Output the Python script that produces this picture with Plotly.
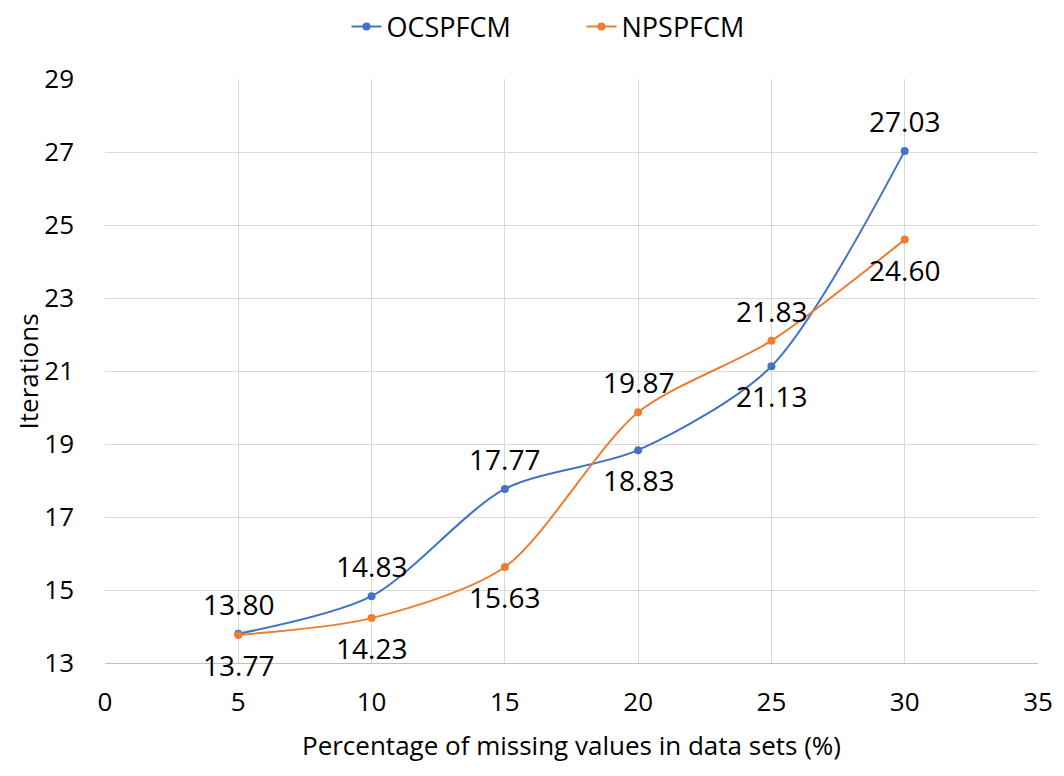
import plotly.graph_objects as go

x_vals = [5, 10, 15, 20, 25, 30]
ocs = [13.80, 14.83, 17.77, 18.83, 21.13, 27.03]
nps = [13.77, 14.23, 15.63, 19.87, 21.83, 24.60]
ocs_pos = ["above", "above", "above", "below", "below", "above"]
nps_pos = ["below", "below", "below", "above", "above", "below"]

x_ticks = [0, 5, 10, 15, 20, 25, 30, 35]
y_ticks = [13, 15, 17, 19, 21, 23, 25, 27, 29]

FONT = "Open Sans"
blue = "#4472C4"
orange = "#ED7D31"

fig = go.Figure()
fig.add_trace(go.Scatter(x=x_vals, y=ocs, name="OCSPFCM", mode="lines+markers",
                         line=dict(color=blue, width=2, shape="spline", smoothing=0.8),
                         marker=dict(size=8, color=blue)))
fig.add_trace(go.Scatter(x=x_vals, y=nps, name="NPSPFCM", mode="lines+markers",
                         line=dict(color=orange, width=2, shape="spline", smoothing=0.8),
                         marker=dict(size=8, color=orange)))

anns = []
for xs, ys, pos in [(x_vals, ocs, ocs_pos), (x_vals, nps, nps_pos)]:
    for xv, yv, p in zip(xs, ys, pos):
        anns.append(dict(x=xv, y=yv, text=f"{yv:.2f}", showarrow=False,
                         yshift=30 if p == "above" else -30,
                         font=dict(family=FONT, size=28, color="black")))

anns.append(dict(xref="paper", yref="paper", x=0.5, y=-0.140, yanchor="middle",
                 text="Percentage of missing values in data sets (%)", showarrow=False,
                 font=dict(family=FONT, size=26, color="black")))
anns.append(dict(xref="paper", yref="paper", x=-0.082, y=0.5, xanchor="center",
                 yanchor="middle", textangle=-90, text="Iterations", showarrow=False,
                 font=dict(family=FONT, size=26, color="black")))

fig.update_layout(
    width=1048, height=760,
    margin=dict(l=97, r=18, t=71, b=105, autoexpand=False),
    paper_bgcolor="white", plot_bgcolor="white",
    font=dict(family=FONT, size=26, color="black"),
    showlegend=True,
    legend=dict(orientation="h", x=0.323, xref="container", xanchor="left",
                y=0.975, yref="container", yanchor="middle",
                font=dict(family=FONT, size=27, color="black"),
                entrywidth=190, entrywidthmode="pixels"),
    annotations=anns,
    xaxis=dict(range=[0, 35], tickvals=x_ticks, showgrid=True, gridcolor="#d9d9d9",
               gridwidth=1, zeroline=False, showline=True, linecolor="#bfbfbf",
               ticks="", automargin=False, ticklabelstandoff=16,
               tickfont=dict(family=FONT, size=26, color="black")),
    yaxis=dict(range=[13, 29], tickvals=y_ticks, showgrid=True, gridcolor="#d9d9d9",
               gridwidth=1, zeroline=False, showline=False, ticks="",
               automargin=False, ticklabelstandoff=30,
               tickfont=dict(family=FONT, size=26, color="black")),
)

fig.write_html("out.html")
